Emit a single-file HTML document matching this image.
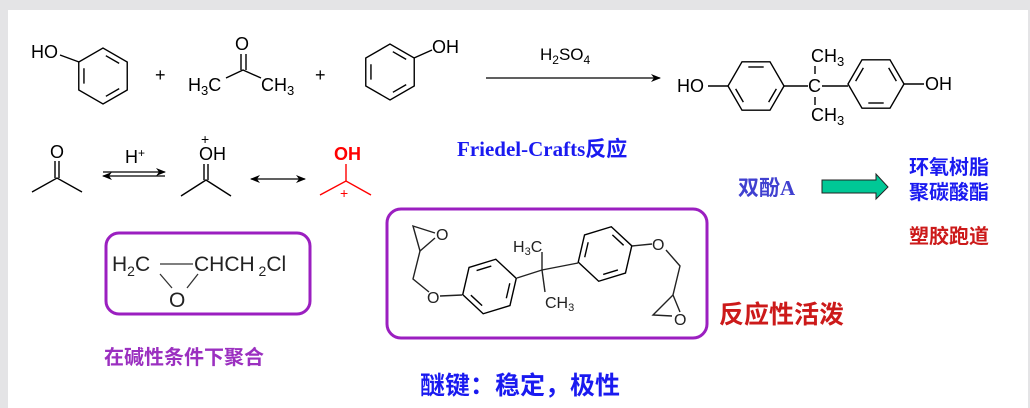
<!DOCTYPE html>
<html><head><meta charset="utf-8"><style>
html,body{margin:0;padding:0;}
body{width:1030px;height:408px;background:#e4e4e6;position:relative;overflow:hidden;font-family:"Liberation Sans","Noto Sans CJK SC",sans-serif;}
#pg{position:absolute;left:8px;top:10px;width:1020px;height:398px;background:#fff;}
svg{position:absolute;left:0;top:0;}
</style></head><body>
<div id="pg"></div>
<svg width="1030" height="408" viewBox="0 0 1030 408" xmlns="http://www.w3.org/2000/svg">
<defs>
<g id="hex" fill="none" stroke="#000" stroke-width="1.4">
<polygon points="28,0 14,24.2 -14,24.2 -28,0 -14,-24.2 14,-24.2"/>
<line x1="20.35" y1="2.85" x2="12.65" y2="16.15"/>
<line x1="-12.65" y1="16.15" x2="-20.35" y2="2.85"/>
<line x1="-7.7" y1="-19" x2="7.7" y2="-19"/>
</g>
<marker id="ah" markerWidth="10" markerHeight="8" refX="9" refY="4" orient="auto" markerUnits="userSpaceOnUse"><path d="M0,0 L10,4 L0,8 L3,4 Z" fill="#000"/></marker>
<marker id="ahs" markerWidth="10" markerHeight="8" refX="1" refY="4" orient="auto" markerUnits="userSpaceOnUse"><path d="M10,0 L0,4 L10,8 L7,4 Z" fill="#000"/></marker>
</defs>
<g font-family="Liberation Sans, sans-serif" font-size="18" fill="#000">
<use href="#hex" transform="translate(103,76) rotate(30)"/>
<line x1="60" y1="55" x2="79" y2="62" stroke="#000" stroke-width="1.4"/>
<text x="31" y="58">HO</text>
<text x="155" y="81">+</text>
<text x="235" y="50">O</text>
<line x1="241" y1="54" x2="241" y2="70" stroke="#000" stroke-width="1.4"/><line x1="246" y1="54" x2="246" y2="70" stroke="#000" stroke-width="1.4"/>
<polyline points="226,78 243,70 261,78" fill="none" stroke="#000" stroke-width="1.4"/>
<text x="188" y="91">H<tspan font-size="13" dy="4">3</tspan><tspan dy="-4">C</tspan></text>
<text x="261" y="91">CH<tspan font-size="13" dy="4">3</tspan></text>
<text x="315" y="81">+</text>
<use href="#hex" transform="translate(390,72) rotate(30) scale(-1,1)"/>
<line x1="414" y1="58" x2="432" y2="50" stroke="#000" stroke-width="1.4"/>
<text x="432" y="53">OH</text>
<line x1="486" y1="78" x2="660" y2="78" stroke="#000" stroke-width="1.3" marker-end="url(#ah)"/>
<text x="540" y="60" font-size="17">H<tspan font-size="12" dy="4">2</tspan><tspan dy="-4">SO</tspan><tspan font-size="12" dy="4">4</tspan></text>
<text x="677" y="92">HO</text>
<line x1="708" y1="86" x2="728" y2="86" stroke="#000" stroke-width="1.4"/>
<use href="#hex" transform="translate(756,86)"/>
<line x1="784" y1="86" x2="808" y2="86" stroke="#000" stroke-width="1.4"/>
<text x="808" y="92">C</text>
<line x1="822" y1="86" x2="848" y2="86" stroke="#000" stroke-width="1.4"/>
<line x1="815" y1="66" x2="815" y2="74" stroke="#000" stroke-width="1.4"/>
<line x1="815" y1="97" x2="815" y2="105" stroke="#000" stroke-width="1.4"/>
<text x="811" y="62">CH<tspan font-size="13" dy="4">3</tspan></text>
<text x="811" y="121">CH<tspan font-size="13" dy="4">3</tspan></text>
<use href="#hex" transform="translate(876,84) scale(1,-1)"/>
<line x1="904" y1="84" x2="924" y2="84" stroke="#000" stroke-width="1.4"/>
<text x="925" y="90">OH</text>
<text x="50" y="158">O</text>
<line x1="55" y1="161" x2="55" y2="178" stroke="#000" stroke-width="1.4"/><line x1="59" y1="161" x2="59" y2="178" stroke="#000" stroke-width="1.4"/>
<polyline points="32,192 57,178 82,192" fill="none" stroke="#000" stroke-width="1.4"/>
<text x="125" y="163">H<tspan font-size="12" dy="-6">+</tspan></text>
<line x1="103" y1="172" x2="165" y2="172" stroke="#000" stroke-width="1.3" marker-end="url(#ah)"/>
<line x1="103" y1="176" x2="165" y2="176" stroke="#000" stroke-width="1.3" marker-start="url(#ahs)"/>
<text x="199" y="160">OH</text>
<text x="201" y="144" font-size="14">+</text>
<line x1="204" y1="164" x2="204" y2="180" stroke="#000" stroke-width="1.4"/><line x1="208" y1="164" x2="208" y2="180" stroke="#000" stroke-width="1.4"/>
<polyline points="181,196 206,180 231,196" fill="none" stroke="#000" stroke-width="1.4"/>
<line x1="251" y1="179" x2="305" y2="179" stroke="#000" stroke-width="1.3" marker-end="url(#ah)" marker-start="url(#ahs)"/>
<text x="334" y="160" fill="#f00" font-weight="bold">OH</text>
<line x1="346" y1="164" x2="346" y2="181" stroke="#f00" stroke-width="1.4"/>
<polyline points="320,195 346,181 371,195" fill="none" stroke="#f00" stroke-width="1.4"/>
<text x="340" y="198" fill="#f00" font-size="14">+</text>
</g>
<text x="457" y="156" font-family="Liberation Serif, serif" font-weight="bold" font-size="21" fill="#1a1af0">Friedel-Crafts<tspan font-family="Noto Sans CJK SC, sans-serif">反应</tspan></text>
<text x="738" y="195" font-family="Noto Sans CJK SC, sans-serif" font-weight="bold" font-size="21" fill="#4040d0">双酚<tspan font-family="Liberation Serif, serif">A</tspan></text>
<polygon points="822,180 876,180 876,174 888,187 876,199 876,193 822,193" fill="#00c896" stroke="#222" stroke-width="1"/>
<g font-family="Noto Sans CJK SC, sans-serif" font-weight="bold" font-size="20">
<text x="909" y="174" fill="#1a1af0">环氧树脂</text>
<text x="909" y="199" fill="#1a1af0">聚碳酸酯</text>
<text x="909" y="243" fill="#cc1a1a">塑胶跑道</text>
</g>
<rect x="106" y="233" width="204" height="81" rx="13" fill="#fff" stroke="#9b1fc0" stroke-width="3"/>
<g font-family="Liberation Sans, sans-serif" font-size="21" fill="#222">
<text x="112" y="271">H<tspan font-size="14" dy="5">2</tspan><tspan dy="-5">C</tspan></text>
<line x1="160" y1="264" x2="193" y2="264" stroke="#333" stroke-width="1.3"/>
<text x="194" y="271">CHCH<tspan font-size="14" dy="5"> 2</tspan><tspan dy="-5">Cl</tspan></text>
<line x1="160" y1="274" x2="172" y2="288" stroke="#333" stroke-width="1.3"/>
<line x1="198" y1="274" x2="187" y2="288" stroke="#333" stroke-width="1.3"/>
<text x="169" y="307">O</text>
</g>
<rect x="387" y="209" width="320" height="129" rx="14" fill="#fff" stroke="#9b1fc0" stroke-width="3"/>
<g fill="none" stroke="#222" stroke-width="1.4">
<polyline points="435,233 413,226 420,251 435,238"/>
<polyline points="420,251 413,279 429,292"/>
<line x1="440" y1="296" x2="462" y2="295"/>
<use href="#hex" transform="translate(489.5,286.5) rotate(-17)"/>
<polyline points="517,278 542,270 578,263"/>
<line x1="542" y1="270" x2="542" y2="252"/>
<line x1="542" y1="270" x2="545" y2="292"/>
<use href="#hex" transform="translate(605,254) rotate(-17) scale(1,-1)"/>
<line x1="632" y1="246" x2="652" y2="244"/>
<polyline points="666,250 680,266 673,295 680,312"/>
<polyline points="673,295 653,315 672,316"/>
</g>
<g font-family="Liberation Sans, sans-serif" font-size="16" fill="#222">
<text x="436" y="240">O</text>
<text x="427" y="303">O</text>
<text x="652" y="250">O</text>
<text x="674" y="325">O</text>
<text x="513" y="252">H<tspan font-size="11" dy="3">3</tspan><tspan dy="-3">C</tspan></text>
<text x="545" y="308">CH<tspan font-size="11" dy="3">3</tspan></text>
</g>
<g font-family="Noto Sans CJK SC, sans-serif" font-weight="bold">
<text x="719" y="323" font-size="25" fill="#cc1a1a">反应性活泼</text>
<text x="104" y="364" font-size="20" fill="#9b30c0">在碱性条件下聚合</text>
<text x="420" y="394" font-size="25" fill="#1a1af0">醚键：稳定，极性</text>
</g>
</svg>
</body></html>
